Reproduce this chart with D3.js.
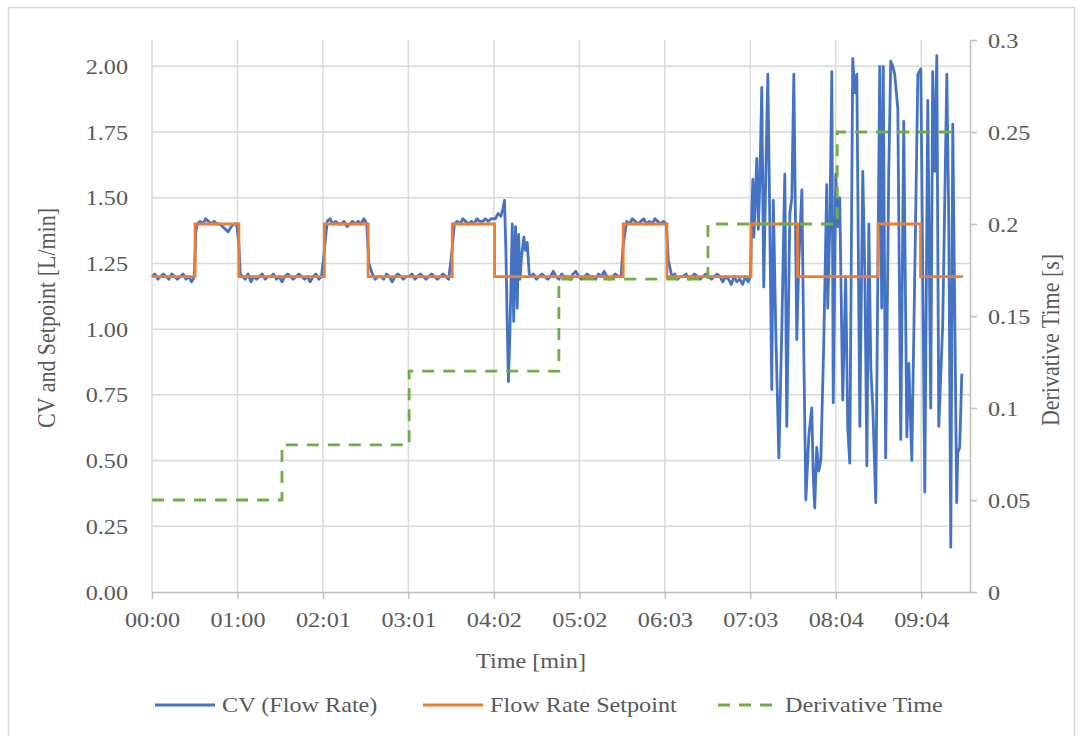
<!DOCTYPE html>
<html>
<head>
<meta charset="utf-8">
<script src="https://cdn.jsdelivr.net/npm/d3@7/dist/d3.min.js"></script>
<style>
  html, body { margin: 0; padding: 0; background: #ffffff; }
  svg { display: block; }
  text { font-family: "Liberation Serif", "Times New Roman", serif; fill: #595959; }
</style>
</head>
<body>
<svg id="chart" width="1081" height="736"></svg>
<script>
// ---------------- data ----------------
const xTickValues = [0, 60.5, 121, 181.5, 242, 302.5, 363, 423.5, 484, 544.5];
const xTickLabels = ["00:00","01:00","02:01","03:01","04:02","05:02","06:03","07:03","08:04","09:04"];
const leftTicks = [0, 0.25, 0.5, 0.75, 1.0, 1.25, 1.5, 1.75, 2.0];
const rightTicks = [0, 0.05, 0.1, 0.15, 0.2, 0.25, 0.3];
const rightTickLabels = ["0","0.05","0.1","0.15","0.2","0.25","0.3"];

const seriesNames = ["CV (Flow Rate)", "Flow Rate Setpoint", "Derivative Time"];

// Flow rate setpoint [L/min] (step changes, time in s)
const spTime  = [0, 30.5, 61.5, 122, 153, 212.5, 242.5, 333.5, 364.5, 424, 457, 514, 544, 574];
const spValue = [1.2, 1.4, 1.2, 1.4, 1.2, 1.4, 1.2, 1.4, 1.2, 1.4, 1.2, 1.4, 1.2, 1.2];

// Derivative time [s] (secondary axis)
const dtTime  = [0, 92, 182, 288, 393.5, 485, 567];
const dtValue = [0.05, 0.08, 0.12, 0.17, 0.2, 0.25, 0.25];

// CV (measured flow rate) [time s, L/min]
const cvData = [
  [0,1.20],[2,1.21],[4,1.19],[6,1.20],[8,1.21],[10,1.20],[12,1.19],[14,1.21],[16,1.20],[18,1.19],
  [20,1.20],[22,1.21],[24,1.19],[26,1.20],[28,1.18],[30,1.20],
  [31,1.37],
  [32,1.40],[34,1.41],[36,1.40],[38,1.42],[40,1.41],[42,1.40],[44,1.41],[46,1.40],[48,1.40],[50,1.39],
  [52,1.38],[54,1.37],[56,1.39],[58,1.40],[60,1.40],
  [61.5,1.32],[62.5,1.21],
  [64,1.20],[66,1.19],[68,1.21],[70,1.18],[72,1.20],[74,1.19],[76,1.20],[78,1.21],[80,1.19],[82,1.20],
  [84,1.20],[86,1.21],[88,1.19],[90,1.20],[92,1.18],[94,1.20],[96,1.21],[98,1.20],[100,1.19],[102,1.20],
  [104,1.21],[106,1.20],[108,1.19],[110,1.20],[112,1.18],[114,1.20],[116,1.21],[118,1.19],[120,1.20],
  [122,1.30],
  [124,1.41],[126,1.42],[128,1.40],[130,1.41],[132,1.40],[134,1.40],[136,1.41],[138,1.39],[140,1.40],
  [142,1.41],[144,1.40],[146,1.41],[148,1.40],[150,1.42],[152,1.40],
  [153.5,1.25],
  [156,1.21],[158,1.19],[160,1.20],[162,1.20],[164,1.19],[166,1.21],[168,1.20],[170,1.18],[172,1.20],
  [174,1.21],[176,1.20],[178,1.19],[180,1.20],[182,1.20],[184,1.21],[186,1.19],[188,1.20],[190,1.21],
  [192,1.20],[194,1.19],[196,1.20],[198,1.21],[200,1.20],[202,1.19],[204,1.20],[206,1.21],[208,1.20],[210,1.19],
  [212,1.28],
  [214,1.40],[216,1.41],[218,1.40],[220,1.42],[222,1.41],[224,1.40],[226,1.41],[228,1.40],[230,1.42],
  [232,1.41],[234,1.41],[236,1.42],[238,1.41],[240,1.42],
  [243,1.42],[245,1.44],[247,1.43],[248.5,1.46],[249.5,1.49],[250.5,1.30],[251.5,1.00],[252.3,0.80],
  [253.3,0.98],[255,1.40],[256,1.03],[257.3,1.39],[258.5,1.08],[259.5,1.36],[260.5,1.19],[261.5,1.27],
  [263.2,1.35],[264.4,1.30],[265.6,1.33],[267,1.21],
  [268,1.20],[270,1.21],[272,1.19],[274,1.20],[276,1.21],[278,1.20],[280,1.19],[282,1.20],[284,1.22],
  [286,1.20],[288,1.19],[290,1.21],[292,1.20],[294,1.20],[296,1.19],[298,1.21],[300,1.22],[302,1.20],
  [304,1.19],[306,1.20],[308,1.21],[310,1.20],[312,1.20],[314,1.19],[316,1.21],[318,1.20],[320,1.22],
  [322,1.20],[324,1.19],[326,1.20],[328,1.21],[330,1.20],[332,1.20],
  [333.5,1.32],
  [336,1.41],[338,1.40],[340,1.42],[342,1.41],[344,1.40],[346,1.41],[348,1.42],[350,1.40],[352,1.41],
  [354,1.40],[356,1.42],[358,1.41],[360,1.40],[362,1.41],[364,1.40],
  [365.5,1.26],
  [368,1.20],[370,1.21],[372,1.19],[374,1.20],[376,1.20],[378,1.21],[380,1.19],[382,1.20],[384,1.21],
  [386,1.20],[388,1.19],[390,1.20],[392,1.21],[394,1.20],[396,1.19],[398,1.20],[400,1.21],[402,1.20],
  [404,1.18],[406,1.20],[408,1.19],[410,1.17],[412,1.20],[414,1.18],[416,1.19],[418,1.17],[420,1.20],[422,1.18],
  [423.6,1.20],[424.6,1.45],[425.3,1.57],[426,1.35],[427,1.50],[428.1,1.65],[429.2,1.38],[430.2,1.55],
  [431.6,1.92],[433,1.16],[434.5,1.60],[435.9,1.97],[437.3,1.40],[438.7,0.77],[439.8,1.49],[441.5,1.00],
  [443.7,0.51],[445.8,1.00],[447.9,1.59],[449.3,0.63],[451.5,1.44],[452.9,1.50],[454.3,1.97],[456.4,0.96],
  [457.8,1.25],[460,1.53],[461.4,0.90],[462.8,0.35],[465,0.60],[467,0.70],[468,0.45],[469.1,0.32],
  [470.5,0.55],[472,0.46],[473.4,0.50],[475.5,0.95],[477.6,1.55],[478.3,1.08],[479.8,1.40],[481.2,1.98],
  [482.2,0.72],[484,1.59],[485.4,1.39],[486.8,1.50],[488.9,0.73],[491,1.20],[492.5,0.62],[493.9,0.49],
  [496,2.03],[497.4,1.90],[498.9,1.97],[501,0.63],[503.1,1.60],[504.6,1.20],[506,0.48],[507.4,1.40],
  [508.8,0.85],[510.2,0.70],[512.3,0.34],[515.1,2.00],[516.5,1.08],[517.6,2.00],[519.3,0.51],[521.5,1.60],
  [522.9,2.02],[524.3,2.00],[525.7,1.97],[527.9,1.84],[530,0.58],[532.1,1.79],[534.3,0.59],[535.7,0.87],
  [537.8,0.50],[539.9,1.21],[542.1,1.97],[544.2,1.99],[547,0.38],[549.1,1.87],[551.2,0.70],[552.6,1.98],
  [554.1,1.60],[555.5,2.04],[556.9,0.63],[559.7,1.02],[562.6,1.97],[564,1.40],[565.4,0.17],[566.8,1.78],
  [569.6,0.34],[570.3,0.53],[571.7,0.55],[573.2,0.83]
];

// ---------------- layout ----------------
const svg = d3.select("#chart");
const plot = { left: 152, right: 970, top: 40, bottom: 592 };
const colors = { cv: "#4472C4", sp: "#ED7D31", dt: "#70AD47", grid: "#D9D9D9", axis: "#BFBFBF" };
const stretch = 1.1;   // horizontal text stretch seen in the reference
const tickFont = 22;

const x = d3.scaleLinear().domain([0, 579]).range([plot.left, plot.right]);
const yL = d3.scaleLinear().domain([0, 2.1]).range([plot.bottom, plot.top]);
const yR = d3.scaleLinear().domain([0, 0.3]).range([plot.bottom, plot.top]);

// outer border
svg.append("rect").attr("x", 8.5).attr("y", 7.5).attr("width", 1066).attr("height", 740)
  .attr("fill", "none").attr("stroke", "#D9D9D9").attr("stroke-width", 1.5);

// gridlines
const grid = svg.append("g");
grid.selectAll(".hg").data(leftTicks.filter(d => d > 0)).join("line")
  .attr("x1", plot.left).attr("x2", plot.right)
  .attr("y1", d => yL(d)).attr("y2", d => yL(d))
  .attr("stroke", colors.grid).attr("stroke-width", 1.5);
grid.selectAll(".vg").data(xTickValues).join("line")
  .attr("x1", d => x(d)).attr("x2", d => x(d))
  .attr("y1", plot.top).attr("y2", plot.bottom)
  .attr("stroke", colors.grid).attr("stroke-width", 1.5);

function styleTickText(sel) {
  sel.attr("font-size", tickFont).attr("fill", "#595959")
    .attr("font-family", "Liberation Serif");
}

// bottom axis
const xAxis = d3.axisBottom(x).tickValues(xTickValues)
  .tickFormat((d, i) => xTickLabels[i]).tickSize(7).tickSizeOuter(0).tickPadding(12);
const gx = svg.append("g").attr("transform", `translate(0,${plot.bottom})`).call(xAxis);
gx.select(".domain").attr("stroke", colors.axis).attr("stroke-width", 1.5);
gx.selectAll(".tick line").attr("stroke", colors.axis).attr("stroke-width", 1.5);
styleTickText(gx.selectAll(".tick text"));
gx.selectAll(".tick text").attr("transform", `scale(${stretch},1)`);

// left axis (labels only)
const yAxisL = d3.axisLeft(yL).tickValues(leftTicks).tickFormat(d3.format(".2f"))
  .tickSize(0).tickPadding(0);
const gyl = svg.append("g").attr("transform", `translate(${plot.left},0)`).call(yAxisL);
gyl.select(".domain").remove();
styleTickText(gyl.selectAll(".tick text"));
gyl.selectAll(".tick text").attr("x", 0)
  .attr("transform", `translate(-24,0) scale(${stretch},1)`);

// right axis
const yAxisR = d3.axisRight(yR).tickValues(rightTicks)
  .tickFormat((d, i) => rightTickLabels[i]).tickSize(7).tickSizeOuter(0).tickPadding(0);
const gyr = svg.append("g").attr("transform", `translate(${plot.right},0)`).call(yAxisR);
gyr.select(".domain").attr("stroke", colors.axis).attr("stroke-width", 1.5);
gyr.selectAll(".tick line").attr("stroke", colors.axis).attr("stroke-width", 1.5);
styleTickText(gyr.selectAll(".tick text"));
gyr.selectAll(".tick text").attr("x", 0)
  .attr("transform", `translate(18,0) scale(${stretch},1)`);

// ---------------- series ----------------
const cvLine = d3.line().x(d => x(d[0])).y(d => yL(d[1]));
svg.append("path").datum(cvData).attr("d", cvLine)
  .attr("fill", "none").attr("stroke", colors.cv).attr("stroke-width", 2.8)
  .attr("stroke-linejoin", "round");

const spPoints = spTime.map((t, i) => [t, spValue[i]]);
const spLine = d3.line().x(d => x(d[0])).y(d => yL(d[1])).curve(d3.curveStepAfter);
svg.append("path").datum(spPoints).attr("d", spLine)
  .attr("fill", "none").attr("stroke", colors.sp).attr("stroke-width", 2.8);

const dtPoints = dtTime.map((t, i) => [t, dtValue[i]]);
const dtLine = d3.line().x(d => x(d[0])).y(d => yR(d[1])).curve(d3.curveStepAfter);
svg.append("path").datum(dtPoints).attr("d", dtLine)
  .attr("fill", "none").attr("stroke", colors.dt).attr("stroke-width", 2.8)
  .attr("stroke-dasharray", "12,9");

// ---------------- titles ----------------
svg.append("text").attr("transform", `translate(531,668) scale(${stretch},1)`)
  .attr("text-anchor", "middle").attr("font-size", 22).text("Time [min]");
svg.append("text").attr("transform", `translate(55,318) scale(${stretch},1) rotate(-90)`)
  .attr("text-anchor", "middle").attr("font-size", 22).text("CV and Setpoint [L/min]");
svg.append("text").attr("transform", `translate(1059,340) scale(${stretch},1) rotate(-90)`)
  .attr("text-anchor", "middle").attr("font-size", 22).text("Derivative Time [s]");

// ---------------- legend ----------------
const legendItems = [
  { name: seriesNames[0], color: colors.cv, dash: null, x: 155 },
  { name: seriesNames[1], color: colors.sp, dash: null, x: 423 },
  { name: seriesNames[2], color: colors.dt, dash: "12,9", x: 718 }
];
const lg = svg.append("g");
legendItems.forEach(it => {
  lg.append("line").attr("x1", it.x).attr("x2", it.x + 60).attr("y1", 705).attr("y2", 705)
    .attr("stroke", it.color).attr("stroke-width", 2.8)
    .attr("stroke-dasharray", it.dash);
  lg.append("text").attr("transform", `translate(${it.x + 67},712) scale(${stretch},1)`)
    .attr("font-size", 22).text(it.name);
});
</script>
</body>
</html>
